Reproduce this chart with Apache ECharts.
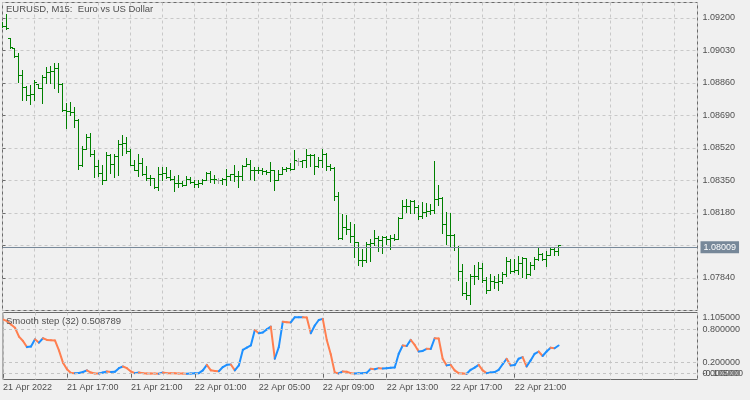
<!DOCTYPE html>
<html>
<head>
<meta charset="utf-8">
<script src="https://cdn.jsdelivr.net/npm/echarts@6/dist/echarts.min.js"></script>
<style>
html,body{margin:0;padding:0;background:#f0f0f0;}
#c{width:750px;height:400px;}
</style>
</head>
<body>
<div id="c"></div>
<script>
// ---------- DATA (EURUSD M15 bars, index 0 = 21 Apr 2022 13:00) ----------
const opens = [
1.09165,1.09156,1.09090,1.09040,1.08997,1.08896,1.08834,1.08793,1.08797,1.08849,
1.08828,1.08886,1.08912,1.08919,1.08933,1.08851,1.08715,1.08711,1.08706,1.08662,
1.08427,1.08510,1.08572,1.08483,1.08421,1.08388,1.08352,1.08479,1.08432,1.08474,
1.08537,1.08545,1.08500,1.08430,1.08404,1.08441,1.08383,1.08362,1.08360,1.08313,
1.08383,1.08387,1.08365,1.08357,1.08334,1.08336,1.08322,1.08357,1.08339,1.08331,
1.08334,1.08352,1.08386,1.08357,1.08350,1.08350,1.08357,1.08369,1.08379,1.08369,
1.08371,1.08421,1.08432,1.08404,1.08402,1.08400,1.08397,1.08391,1.08400,1.08352,
1.08383,1.08409,1.08411,1.08409,1.08450,1.08450,1.08453,1.08479,1.08481,1.08421,
1.08456,1.08488,1.08421,1.08412,1.08264,1.08045,1.08103,1.08095,1.08055,1.08025,
1.07929,1.07933,1.08017,1.08020,1.08048,1.08037,1.08051,1.08043,1.08048,1.08043,
1.08153,1.08212,1.08214,1.08240,1.08208,1.08159,1.08182,1.08187,1.08191,1.08252,
1.08257,1.08118,1.08060,1.08062,1.07999,1.07873,1.07758,1.07746,1.07847,1.07850,
1.07891,1.07828,1.07776,1.07821,1.07815,1.07821,1.07856,1.07924,1.07873,1.07877,
1.07917,1.07941,1.07859,1.07903,1.07938,1.07964,1.07934,1.07960,1.07990,1.07981
];
const highs = [
1.09175,1.09217,1.09093,1.09042,1.09015,1.08924,1.08840,1.08846,1.08872,1.08849,
1.08898,1.08941,1.08947,1.08959,1.08962,1.08854,1.08750,1.08758,1.08732,1.08671,
1.08526,1.08589,1.08596,1.08505,1.08456,1.08427,1.08496,1.08484,1.08484,1.08557,
1.08584,1.08575,1.08514,1.08453,1.08484,1.08462,1.08421,1.08374,1.08362,1.08418,
1.08415,1.08418,1.08404,1.08369,1.08374,1.08344,1.08369,1.08365,1.08348,1.08348,
1.08357,1.08391,1.08397,1.08374,1.08362,1.08362,1.08409,1.08383,1.08427,1.08397,
1.08427,1.08462,1.08453,1.08418,1.08418,1.08412,1.08404,1.08444,1.08404,1.08404,
1.08415,1.08415,1.08439,1.08505,1.08467,1.08456,1.08514,1.08488,1.08484,1.08470,
1.08514,1.08491,1.08435,1.08415,1.08287,1.08174,1.08165,1.08130,1.08118,1.08025,
1.07990,1.08025,1.08043,1.08086,1.08055,1.08055,1.08055,1.08060,1.08069,1.08156,
1.08243,1.08252,1.08243,1.08243,1.08217,1.08234,1.08229,1.08222,1.08449,1.08322,
1.08261,1.08182,1.08177,1.08069,1.08002,1.07912,1.07815,1.07856,1.07903,1.07920,
1.07915,1.07842,1.07856,1.07850,1.07859,1.07868,1.07946,1.07938,1.07938,1.07950,
1.07946,1.07943,1.07920,1.07946,1.07999,1.07967,1.07981,1.07996,1.07996,1.08012
];
const lows = [
1.09149,1.09137,1.09038,1.08994,1.08863,1.08767,1.08767,1.08746,1.08767,1.08828,
1.08753,1.08858,1.08854,1.08828,1.08810,1.08711,1.08619,1.08690,1.08627,1.08409,
1.08421,1.08509,1.08474,1.08365,1.08369,1.08331,1.08348,1.08386,1.08365,1.08378,
1.08479,1.08491,1.08427,1.08404,1.08369,1.08374,1.08352,1.08322,1.08310,1.08299,
1.08352,1.08362,1.08352,1.08292,1.08313,1.08317,1.08322,1.08334,1.08313,1.08313,
1.08327,1.08348,1.08339,1.08334,1.08334,1.08327,1.08322,1.08352,1.08344,1.08313,
1.08352,1.08421,1.08357,1.08352,1.08386,1.08383,1.08383,1.08344,1.08296,1.08348,
1.08383,1.08397,1.08400,1.08409,1.08427,1.08415,1.08418,1.08421,1.08383,1.08418,
1.08415,1.08404,1.08400,1.08243,1.08043,1.08043,1.08069,1.08025,1.07946,1.07903,
1.07898,1.07920,1.07925,1.08008,1.07978,1.07967,1.08016,1.07990,1.08037,1.08043,
1.08153,1.08182,1.08177,1.08177,1.08147,1.08153,1.08159,1.08174,1.08177,1.08217,
1.08072,1.08017,1.07999,1.07985,1.07828,1.07751,1.07728,1.07702,1.07807,1.07833,
1.07815,1.07758,1.07776,1.07786,1.07776,1.07810,1.07850,1.07863,1.07868,1.07859,
1.07842,1.07838,1.07855,1.07886,1.07929,1.07933,1.07898,1.07958,1.07955,1.07955
];
const closes = [
1.09156,1.09142,1.09043,1.08997,1.08896,1.08834,1.08793,1.08797,1.08861,1.08828,
1.08886,1.08912,1.08919,1.08933,1.08851,1.08715,1.08711,1.08706,1.08662,1.08427,
1.08510,1.08572,1.08483,1.08421,1.08388,1.08352,1.08479,1.08432,1.08474,1.08537,
1.08545,1.08500,1.08430,1.08404,1.08441,1.08383,1.08362,1.08360,1.08313,1.08383,
1.08387,1.08365,1.08357,1.08334,1.08336,1.08322,1.08357,1.08339,1.08331,1.08334,
1.08352,1.08386,1.08357,1.08354,1.08350,1.08357,1.08369,1.08379,1.08369,1.08371,
1.08421,1.08432,1.08404,1.08402,1.08400,1.08397,1.08391,1.08400,1.08352,1.08383,
1.08409,1.08411,1.08409,1.08453,1.08450,1.08453,1.08479,1.08481,1.08421,1.08456,
1.08488,1.08421,1.08412,1.08264,1.08045,1.08103,1.08095,1.08055,1.08025,1.07929,
1.07933,1.08017,1.08020,1.08048,1.08037,1.08051,1.08043,1.08048,1.08043,1.08153,
1.08212,1.08214,1.08240,1.08208,1.08159,1.08182,1.08187,1.08191,1.08252,1.08257,
1.08118,1.08060,1.08062,1.07999,1.07873,1.07758,1.07746,1.07847,1.07850,1.07891,
1.07828,1.07776,1.07821,1.07815,1.07821,1.07856,1.07924,1.07873,1.07877,1.07917,
1.07941,1.07859,1.07903,1.07938,1.07964,1.07934,1.07960,1.07990,1.07981,1.08009
];
// Smooth step (32) indicator, one value per bar
const smoothStep = [
0.98,0.95,0.89,0.83,0.67,0.59,0.48,0.49,0.62,0.56,
0.64,0.61,0.605,0.60,0.42,0.20,0.08,0.012,0.01,0.012,
0.03,0.06,0.02,0.005,0.003,0.02,0.04,0.03,0.035,0.10,
0.13,0.10,0.04,0.01,0.02,0.01,0.005,0.003,0.002,0.001,
0.02,0.01,0.008,0.006,0.004,0.002,0.001,0.004,0.007,0.01,
0.06,0.16,0.06,0.05,0.045,0.12,0.16,0.165,0.06,0.15,
0.43,0.47,0.51,0.79,0.73,0.745,0.80,0.85,0.27,0.48,
0.94,0.93,0.925,1.02,1.02,1.02,1.015,0.73,0.87,0.97,
0.99,0.61,0.35,0.02,0.005,0.04,0.035,0.01,0.005,0.008,
0.01,0.015,0.09,0.08,0.10,0.095,0.10,0.105,0.11,0.36,
0.51,0.50,0.61,0.52,0.40,0.41,0.45,0.445,0.64,0.635,
0.27,0.15,0.16,0.06,0.01,0.005,0.0,0.07,0.11,0.16,
0.06,0.01,0.02,0.03,0.07,0.17,0.27,0.15,0.155,0.27,
0.30,0.13,0.24,0.36,0.40,0.32,0.40,0.47,0.46,0.508789
];
const indicatorLevels = [0, 0.2, 0.8];
const indicatorLabelValues = [0, 0.2, 0.8, 1.105];
const indicatorMinLabel = [-0.105];
const lastPrice = 1.08009;
const xTickIndex = [0, 16, 32, 48, 64, 80, 96, 112, 128];
const xTickLabels = ['21 Apr 2022','21 Apr 17:00','21 Apr 21:00','22 Apr 01:00','22 Apr 05:00',
                     '22 Apr 09:00','22 Apr 13:00','22 Apr 17:00','22 Apr 21:00'];

// ---------- STYLE ----------
const FONT = '"Liberation Sans", Arial, sans-serif';
const TXT = '#505050';
const FRAME = '#6a6a6a';
const GRIDC = '#c8c8c8';
const BAR = '#008000';
const DOJI = '#a8a8a8';
const UP = '#1e90ff';
const DOWN = '#ff7f50';

const barData = closes.map((c, i) => [i, opens[i], highs[i], lows[i], c]);
const segData = [];
const segColors = [];
let lastCol = DOWN;
for (let i = 0; i < smoothStep.length - 1; i++) {
  const a = smoothStep[i], b = smoothStep[i + 1];
  if (b > a) lastCol = UP; else if (b < a) lastCol = DOWN;
  segColors.push(lastCol);
  segData.push([i, a, i + 1, b]);
}

function renderBar(params, api) {
  const k = api.value(0);
  const o = api.coord([k, api.value(1)]);
  const h = api.coord([k, api.value(2)]);
  const l = api.coord([k, api.value(3)]);
  const c = api.coord([k, api.value(4)]);
  const x = Math.floor(h[0]) + 0.5;
  const yo = Math.floor(o[1]) + 0.5, yc = Math.floor(c[1]) + 0.5;
  const yh = Math.floor(h[1]), yl = Math.floor(l[1]) + 1;
  const col = api.value(1) === api.value(4) ? DOJI : BAR;
  const st = {stroke: col, lineWidth: 1};
  return {type: 'group', children: [
    {type: 'line', shape: {x1: x, y1: yh, x2: x, y2: yl}, style: st},
    {type: 'line', shape: {x1: x - 2.5, y1: yo, x2: x - 0.5, y2: yo}, style: st},
    {type: 'line', shape: {x1: x + 0.5, y1: yc, x2: x + 2.5, y2: yc}, style: st}
  ]};
}
function renderSeg(params, api) {
  const a = api.coord([api.value(0), api.value(1)]);
  const b = api.coord([api.value(2), api.value(3)]);
  return {type: 'line', shape: {x1: a[0], y1: a[1], x2: b[0], y2: b[1]},
          style: {stroke: segColors[params.dataIndex], lineWidth: 2, lineCap: 'round'}};
}

const chart = echarts.init(document.getElementById('c'));
const lbl = {fontSize: 9, color: TXT, fontFamily: FONT};
chart.setOption({
  animation: false,
  backgroundColor: '#f0f0f0',
  title: [
    {text: 'EURUSD, M15:  Euro vs US Dollar', left: 6, top: 4, padding: 0,
     textStyle: {fontSize: 9.5, fontWeight: 'normal', color: TXT, fontFamily: FONT}},
    {text: 'Smooth step (32) ' + smoothStep[smoothStep.length - 1].toFixed(6), left: 6, top: 316, padding: 0,
     textStyle: {fontSize: 9.5, fontWeight: 'normal', color: TXT, fontFamily: FONT}}
  ],
  grid: [
    {left: 2.5, top: 2.5, width: 695, height: 308, show: true, borderColor: FRAME, borderWidth: 1, backgroundColor: 'transparent'},
    {left: 2.5, top: 312.5, width: 695, height: 67, show: true, borderColor: FRAME, borderWidth: 1, backgroundColor: 'transparent'}
  ],
  xAxis: [
    {gridIndex: 0, type: 'value', min: 0, max: 173.75, interval: 8,
     axisLine: {show: false}, axisTick: {show: false}, axisLabel: {show: false},
     splitLine: {show: true, lineStyle: {color: GRIDC, type: [3, 3]}}},
    {gridIndex: 1, type: 'value', position: 'bottom', min: 0, max: 173.75, interval: 16,
     axisLine: {show: false},
     axisTick: {show: true, customValues: xTickIndex, length: 4, lineStyle: {color: FRAME}},
     axisLabel: Object.assign({customValues: xTickIndex, align: 'left', margin: 4,
       formatter: v => { const i = xTickIndex.indexOf(v); return i >= 0 ? xTickLabels[i] : ''; }}, lbl),
     splitLine: {show: false}},
    {gridIndex: 1, type: 'value', position: 'top', min: 0, max: 173.75, interval: 8,
     axisLine: {show: false}, axisTick: {show: false}, axisLabel: {show: false},
     splitLine: {show: true, lineStyle: {color: GRIDC, type: [3, 3]}}}
  ],
  yAxis: [
    {gridIndex: 0, type: 'value', position: 'right', min: 1.0767, max: 1.0928, interval: 0.0017,
     axisLine: {show: false},
     axisTick: {show: true, length: 3, lineStyle: {color: FRAME}},
     axisLabel: Object.assign({showMinLabel: false, showMaxLabel: false, margin: 5,
       formatter: v => Math.abs(v - 1.0801) < 1e-7 ? '' : v.toFixed(5)}, lbl),
     splitLine: {show: true, lineStyle: {color: GRIDC, type: [3, 3]}}},
    {gridIndex: 1, type: 'value', position: 'right', min: -0.105, max: 1.105,
     axisLine: {show: false},
     axisTick: {show: true, customValues: indicatorLevels, length: 3, lineStyle: {color: FRAME}},
     axisLabel: Object.assign({customValues: indicatorLabelValues, margin: 5,
       showMinLabel: true, showMaxLabel: true, hideOverlap: false,
       formatter: v => v > 1 ? '{t|' + v.toFixed(6) + '}' : v.toFixed(6),
       rich: {t: {padding: [11, 0, 0, 0], fontSize: 9, color: TXT, fontFamily: FONT}}}, lbl),
     splitLine: {show: false}},
    {gridIndex: 1, type: 'value', position: 'right', offset: 0, min: -0.105, max: 1.105,
     axisLine: {show: false}, axisTick: {show: false}, splitLine: {show: false},
     axisLabel: Object.assign({customValues: indicatorMinLabel, margin: 5, showMinLabel: true,
       formatter: v => '{b|' + v.toFixed(6) + '}',
       rich: {b: {padding: [0, 0, 12, 0], fontSize: 9, color: TXT, fontFamily: FONT}}}, lbl)}
  ],
  series: [
    {type: 'custom', name: 'EURUSD', xAxisIndex: 0, yAxisIndex: 0, data: barData,
     encode: {x: 0, y: [1, 2, 3, 4]}, renderItem: renderBar, clip: true,
     markLine: {silent: true, symbol: ['none', 'none'], animation: false,
       lineStyle: {color: '#778899', type: 'solid', width: 1},
       label: {show: true, position: 'end', formatter: lastPrice.toFixed(5), color: '#ffffff',
         backgroundColor: '#778899', padding: [2, 3, 1, 3], fontSize: 9, fontFamily: FONT, distance: 3},
       emphasis: {disabled: true},
       data: [{yAxis: lastPrice}]}},
    {type: 'custom', name: 'Smooth step', xAxisIndex: 1, yAxisIndex: 1, data: segData,
     encode: {x: [0, 2], y: [1, 3]}, renderItem: renderSeg, clip: true, z: 3,
     markLine: {silent: true, symbol: ['none', 'none'], animation: false,
       lineStyle: {color: '#c4c4c4', type: [3, 3], width: 1},
       label: {show: false}, emphasis: {disabled: true},
       data: indicatorLevels.map(v => ({yAxis: v}))}}
  ]
});
</script>
</body>
</html>
